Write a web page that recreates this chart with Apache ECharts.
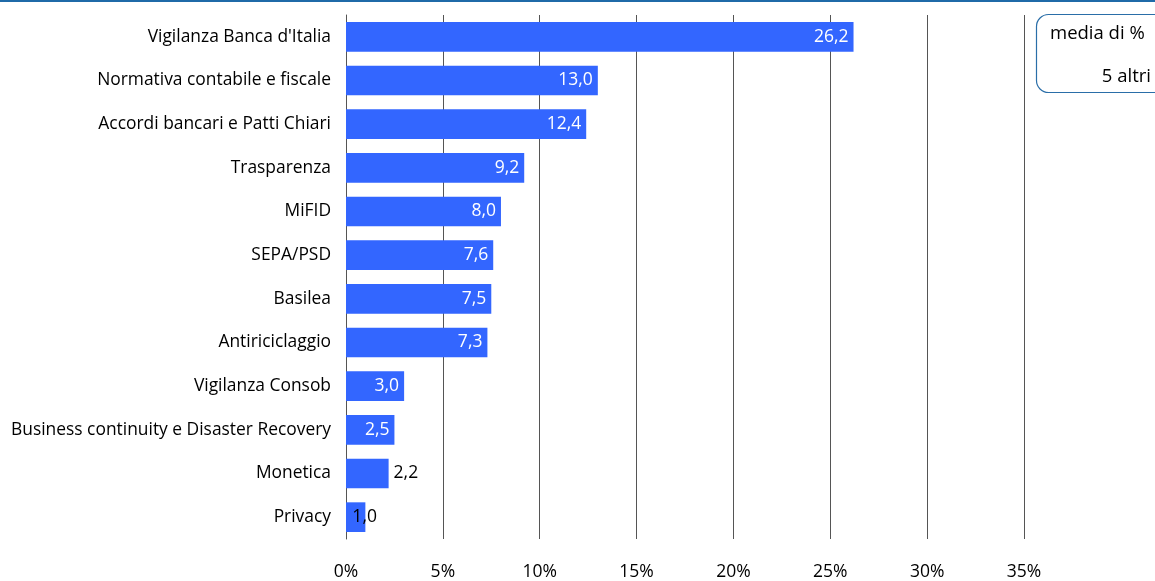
<!DOCTYPE html>
<html>
<head>
<meta charset="utf-8">
<script src="https://cdn.jsdelivr.net/npm/echarts@6/dist/echarts.min.js"></script>
<style>
  html, body { margin: 0; padding: 0; background: #fff; }
  #chart { width: 1155px; height: 581px; }
</style>
</head>
<body>
<div id="chart"></div>
<script>
// Categories, top to bottom
const categories = [
  "Vigilanza Banca d'Italia",
  "Normativa contabile e fiscale",
  "Accordi bancari e Patti Chiari",
  "Trasparenza",
  "MiFID",
  "SEPA/PSD",
  "Basilea",
  "Antiriciclaggio",
  "Vigilanza Consob",
  "Business continuity e Disaster Recovery",
  "Monetica",
  "Privacy"
];
// Average share (%) per topic
const values = [26.2, 13.0, 12.4, 9.2, 8.0, 7.6, 7.5, 7.3, 3.0, 2.5, 2.2, 1.0];
const xTicks = [0, 5, 10, 15, 20, 25, 30, 35];
const legendLines = ["media di %", "5 altri"];

const FONT = "Open Sans";
const CAT_SIZE = 17.4;
const NUM_SIZE = 17.5;
const fmt = v => v.toFixed(1).replace('.', ',');

const seriesData = values.map(v => {
  const item = { value: v };
  if (v < 2.4 && v >= 1.5) {
    item.label = { position: 'right', color: '#000', distance: 5 };
  } else if (v < 1.5) {
    item.label = { position: 'right', color: '#000', distance: -13 };
  }
  return item;
});

const chart = echarts.init(document.getElementById('chart'), null, { renderer: 'canvas' });
chart.setOption({
  animation: false,
  textStyle: { fontFamily: FONT },
  grid: { left: 346, right: 131, top: 15, bottom: 41, containLabel: false },
  xAxis: {
    type: 'value',
    min: xTicks[0],
    max: xTicks[xTicks.length - 1],
    interval: 5,
    axisLine: { show: false },
    axisTick: { show: false },
    axisLabel: { formatter: '{value}%', color: '#000', fontSize: NUM_SIZE, fontFamily: FONT, margin: 24 },
    splitLine: { show: true, lineStyle: { color: '#555', width: 1 } }
  },
  yAxis: {
    type: 'category',
    inverse: true,
    data: categories,
    axisLine: { show: true, lineStyle: { color: '#555', width: 1 } },
    axisTick: { show: false },
    axisLabel: { color: '#000', fontSize: CAT_SIZE, fontFamily: FONT, margin: 15 }
  },
  series: [{
    type: 'bar',
    data: seriesData,
    barCategoryGap: '32%',
    itemStyle: { color: '#3366ff' },
    label: {
      show: true,
      position: 'insideRight',
      distance: 5,
      color: '#fff',
      fontSize: NUM_SIZE,
      fontFamily: FONT,
      formatter: p => fmt(p.value)
    }
  }],
  graphic: [
    {
      type: 'rect',
      shape: { x: 0, y: 0, width: 1155, height: 2 },
      style: { fill: '#1f6aa8' },
      silent: true
    },
    {
      type: 'rect',
      shape: { x: 1036.5, y: 14.5, width: 140, height: 78, r: 12 },
      style: { fill: '#fff', stroke: '#2a6ea8', lineWidth: 1.2 },
      silent: true
    },
    {
      type: 'text',
      x: 1050, y: 34,
      style: { text: legendLines[0], fill: '#000', font: '18.5px "' + FONT + '"', textVerticalAlign: 'middle' },
      silent: true
    },
    {
      type: 'text',
      x: 1151, y: 77,
      style: { text: legendLines[1], fill: '#000', font: '18.5px "' + FONT + '"', textAlign: 'right', textVerticalAlign: 'middle' },
      silent: true
    }
  ]
});
</script>
</body>
</html>
